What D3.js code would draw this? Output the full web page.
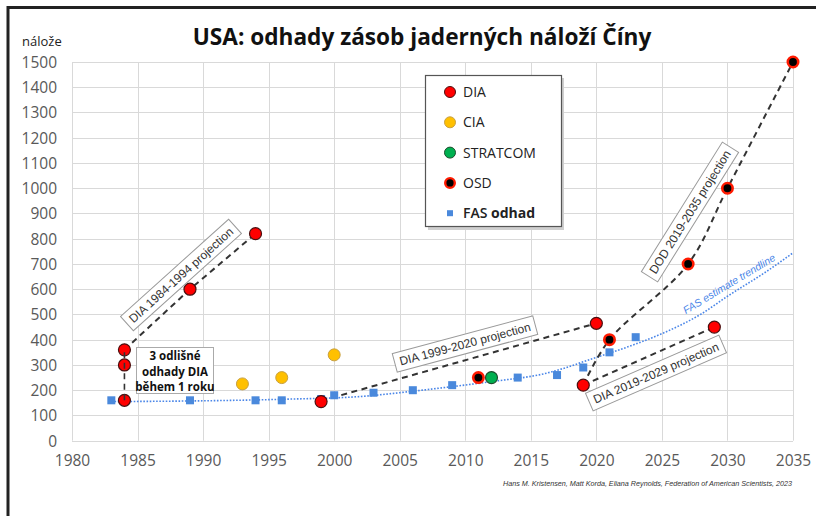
<!DOCTYPE html>
<html><head><meta charset="utf-8">
<script src="https://cdn.jsdelivr.net/npm/d3@7"></script>
<style>body{margin:0;background:#fff}svg{display:block}</style>
</head><body><svg id="c" width="816" height="516"></svg>
<script>
// ---- data ----
const xTicks = [1980,1985,1990,1995,2000,2005,2010,2015,2020,2025,2030,2035];
const yTicks = [0,100,200,300,400,500,600,700,800,900,1000,1100,1200,1300,1400,1500];
const diaYears = [1984,1984,1984,1989,1994,1999,2019,2020,2029];
const diaValues = [160,300,360,600,820,155,220,465,450];
const ciaYears = [1993,1996,2000];
const ciaValues = [225,250,340];
const stratcomYears = [2012];
const stratcomValues = [250];
const osdYears = [2011,2021,2027,2030,2035];
const osdValues = [250,400,700,1000,1500];
const fasYears = [1983,1989,1994,1996,1999,2000,2003,2006,2009,2014,2017,2019,2021,2023];
const fasValues = [160,160,160,160,165,180,190,200,220,250,260,290,350,410];
const trendYears = [1983,1990,1996,2002,2006,2008,2012,2016,2020,2023,2025,2028,2030,2033,2035];
const trendValues = [155,158,164,175,196,208,234,265,330,383,424,502,572,671,744];
const proj1984aYears = [1984,1984], proj1984aValues = [160,360];
const proj1984Years = [1984,1989,1994], proj1984Values = [360,600,820];
const proj1999Years = [1999,2020], proj1999Values = [158,465];
const proj2019Years = [2019,2029], proj2019Values = [220,450];
const projDodYears = [2019,2021,2027,2030,2035], projDodValues = [220,400,700,1000,1500];
const legendLabels = ["DIA","CIA","STRATCOM","OSD","FAS odhad"];
const title = "USA: odhady zásob jaderných náloží Číny";
const yLabel = "nálože";
const credit = "Hans M. Kristensen, Matt Korda, Eliana Reynolds, Federation of American Scientists, 2023";

// ---- layout ----
const svg = d3.select("#c");
const x = d3.scaleLinear().domain([1980,2035]).range([72,793]);
const y = d3.scaleLinear().domain([0,1500]).range([440.7,62]);
const zip = (a,b)=>a.map((v,i)=>[v,b[i]]);

// frame
svg.append("line").attr("x1",7).attr("x2",816).attr("y1",7.5).attr("y2",7.5).attr("stroke","#222").attr("stroke-width",3);
svg.append("line").attr("x1",8).attr("x2",8).attr("y1",6).attr("y2",516).attr("stroke","#222").attr("stroke-width",3);

// grid
const g = svg.append("g");
g.append("g").selectAll("line").data(yTicks).join("line")
  .attr("x1",x(1980)).attr("x2",x(2035)).attr("y1",d=>Math.round(y(d))+0.5).attr("y2",d=>Math.round(y(d))+0.5)
  .attr("stroke","#d9d9d9").attr("stroke-width",1);
g.append("g").selectAll("line").data(xTicks).join("line")
  .attr("x1",d=>Math.round(x(d))+0.5).attr("x2",d=>Math.round(x(d))+0.5).attr("y1",y(1500)).attr("y2",y(0))
  .attr("stroke","#d9d9d9").attr("stroke-width",1);

// axes (labels only)
const yAxis = d3.axisLeft(y).tickValues(yTicks).tickSize(0).tickPadding(0).tickFormat(d3.format("d"));
const ya = svg.append("g").attr("transform","translate(57,0)").call(yAxis);
ya.select(".domain").remove();
ya.selectAll("text").attr("font-family","Open Sans").attr("font-size",15.5).attr("fill","#595959").attr("dy","0.35em");
const xAxis = d3.axisBottom(x).tickValues(xTicks).tickSize(0).tickPadding(0).tickFormat(d3.format("d"));
const xa = svg.append("g").attr("transform","translate(0,455)").call(xAxis);
xa.select(".domain").remove();
xa.selectAll("text").attr("font-family","Open Sans").attr("font-size",15.5).attr("fill","#595959").attr("dy","0.71em");

// title
const t = svg.append("text").attr("x",422).attr("y",45).attr("text-anchor","middle")
  .attr("font-family","Open Sans").attr("font-weight",700).attr("font-size",26).attr("fill","#111").text(title);
const tw = t.node().getComputedTextLength();
t.attr("font-size", 26*459/tw);
svg.append("text").attr("x",22).attr("y",46).attr("font-family","Open Sans").attr("font-size",13).attr("fill","#222").text(yLabel);

// trendline
const line = d3.line().x(d=>x(d[0])).y(d=>y(d[1]));
svg.append("path").datum(zip(trendYears,trendValues)).attr("d",line.curve(d3.curveMonotoneX))
  .attr("fill","none").attr("stroke","#4a86e8").attr("stroke-width",1.6).attr("stroke-dasharray","1.6,1.6");

// projection lines
const dash = (ys,vs,curve)=>svg.append("path").datum(zip(ys,vs))
  .attr("d",d3.line().x(d=>x(d[0])).y(d=>y(d[1])).curve(curve||d3.curveLinear))
  .attr("fill","none").attr("stroke","#333").attr("stroke-width",2).attr("stroke-dasharray","6,4.5");
dash(proj1984Years,proj1984Values);
dash(proj1999Years,proj1999Values);
dash(proj2019Years,proj2019Values);
dash(projDodYears,projDodValues,d3.curveCatmullRom.alpha(0.5));

// markers
svg.append("g").selectAll("rect").data(zip(fasYears,fasValues)).join("rect")
  .attr("x",d=>x(d[0])-4).attr("y",d=>y(d[1])-4).attr("width",8).attr("height",8).attr("fill","#4a89dc");
const circ = (ys,vs,fill,stroke,sw,r)=>svg.append("g").selectAll("circle").data(zip(ys,vs)).join("circle")
  .attr("cx",d=>x(d[0])).attr("cy",d=>y(d[1])).attr("r",r).attr("fill",fill).attr("stroke",stroke).attr("stroke-width",sw);
circ(diaYears,diaValues,"#ff0000","#4a1010",1.2,6);
circ(ciaYears,ciaValues,"#ffc000","#c8a040",1,6);
circ(stratcomYears,stratcomValues,"#00b050","#1d4d2d",1.2,6);
circ(osdYears,osdValues,"#000","#ff1a00",2.6,5.2);
dash(proj1984aYears,proj1984aValues).attr("stroke-width",1.6);

// rotated label boxes
function tag(cx,cy,ang,txt,fs){
  const gg = svg.append("g").attr("transform",`translate(${cx},${cy}) rotate(${-ang})`);
  const r = gg.append("rect").attr("fill","#fff").attr("stroke","#9a9a9a").attr("stroke-width",1);
  const tx = gg.append("text").attr("text-anchor","middle").attr("dy","0.35em")
    .attr("font-family","Liberation Sans").attr("font-size",fs).attr("fill","#333").text(txt);
  const w = tx.node().getComputedTextLength();
  r.attr("x",-w/2-5).attr("y",-fs*0.8).attr("width",w+10).attr("height",fs*1.6);
}
tag(181,275,42,"DIA 1984-1994 projection",12);
tag(465,344,15,"DIA 1999-2020 projection",12);
tag(656,373,23.5,"DIA 2019-2029 projection",12);
tag(690,212,58,"DOD 2019-2035 projection",12);

// trendline label
svg.append("text").attr("transform","translate(731,287) rotate(-31)").attr("text-anchor","middle")
  .attr("font-family","Liberation Sans").attr("font-style","italic").attr("font-size",10.5).attr("fill","#4a86e8")
  .text("FAS estimate trendline");

// note box
svg.append("rect").attr("x",136.5).attr("y",347.5).attr("width",77).attr("height",46).attr("fill","#fff").attr("stroke","#aaa");
const note = ["3 odlišné","odhady DIA","během 1 roku"];
svg.append("g").selectAll("text").data(note).join("text").attr("x",175).attr("y",(d,i)=>360+i*15.5)
  .attr("text-anchor","middle").attr("font-family","Open Sans").attr("font-weight",700).attr("font-size",11.5).attr("fill","#111").text(d=>d);

// legend
svg.append("rect").attr("x",428).attr("y",78).attr("width",136).attr("height",152).attr("fill","#cfcfcf");
svg.append("rect").attr("x",425.5).attr("y",75.5).attr("width",136).attr("height",151).attr("fill","#fff").attr("stroke","#555").attr("stroke-width",1.2);
const lg = svg.append("g");
const ly = i=>92+i*30.3;
lg.append("circle").attr("cx",450).attr("cy",ly(0)).attr("r",5.5).attr("fill","#ff0000").attr("stroke","#4a1010");
lg.append("circle").attr("cx",450).attr("cy",ly(1)).attr("r",5.5).attr("fill","#ffc000").attr("stroke","#c8a040");
lg.append("circle").attr("cx",450).attr("cy",ly(2)).attr("r",5.5).attr("fill","#00b050").attr("stroke","#1d4d2d");
lg.append("circle").attr("cx",450).attr("cy",ly(3)).attr("r",4.8).attr("fill","#000").attr("stroke","#ff1a00").attr("stroke-width",2.4);
lg.append("rect").attr("x",447).attr("y",ly(4)-3).attr("width",6).attr("height",6).attr("fill","#4a89dc");
legendLabels.forEach((l,i)=>{
  const tt = lg.append("text").attr("x",463).attr("y",ly(i)).attr("dy","0.36em").attr("font-family","Open Sans")
    .attr("font-size",14).attr("fill","#222");
  if(l==="FAS odhad"){ tt.append("tspan").attr("font-weight",600).text("FAS "); tt.append("tspan").attr("font-weight",700).text("odhad"); }
  else tt.text(l);
});

// credit
svg.append("text").attr("x",792).attr("y",486).attr("text-anchor","end").attr("font-family","Liberation Sans")
  .attr("font-style","italic").attr("font-size",7.2).attr("fill","#333").text(credit);
</script></body></html>
